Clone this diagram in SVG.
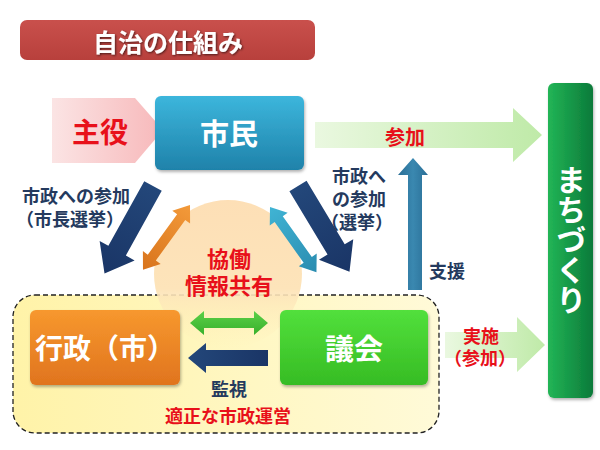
<svg xmlns="http://www.w3.org/2000/svg" width="600" height="450" viewBox="0 0 600 450">
<defs>
<style>
text{font-family:"Noto Sans CJK JP","Noto Sans",sans-serif;font-weight:bold;text-anchor:middle;dominant-baseline:central}
.w{fill:#fff}
.r{fill:#e8101a}
.n{fill:#243a5e}
</style>
<linearGradient id="gTitle" x1="0" y1="0" x2="0" y2="1"><stop offset="0" stop-color="#c9504c"/><stop offset="1" stop-color="#b8403c"/></linearGradient>
<linearGradient id="gPink" x1="0" y1="0" x2="1" y2="0"><stop offset="0" stop-color="#fbe4e4"/><stop offset="1" stop-color="#f7b8ba"/></linearGradient>
<linearGradient id="gBlue" x1="0" y1="0" x2="0" y2="1"><stop offset="0" stop-color="#3cb6dc"/><stop offset="1" stop-color="#1f82aa"/></linearGradient>
<linearGradient id="gLG" x1="0" y1="0" x2="1" y2="0"><stop offset="0" stop-color="#eaf8e0"/><stop offset="1" stop-color="#bfeaa8"/></linearGradient>
<linearGradient id="gMachi" x1="0" y1="0" x2="1" y2="0"><stop offset="0" stop-color="#22b556"/><stop offset="1" stop-color="#0b7a3a"/></linearGradient>
<linearGradient id="gYellow" x1="0" y1="0" x2="1" y2="0"><stop offset="0" stop-color="#fff3a8"/><stop offset="1" stop-color="#fffad8"/></linearGradient>
<linearGradient id="gPeach" x1="0" y1="0" x2="0" y2="1"><stop offset="0" stop-color="#fddfb6"/><stop offset="0.6" stop-color="#fde4ba"/><stop offset="1" stop-color="#fff0b8" stop-opacity="0"/></linearGradient>
<linearGradient id="gOrangeBox" x1="0" y1="0" x2="0" y2="1"><stop offset="0" stop-color="#f7982e"/><stop offset="1" stop-color="#e0741e"/></linearGradient>
<linearGradient id="gGreenBox" x1="0" y1="0" x2="0" y2="1"><stop offset="0" stop-color="#52e03c"/><stop offset="1" stop-color="#36bc24"/></linearGradient>
<linearGradient id="gNavy" x1="0" y1="0" x2="1" y2="0"><stop offset="0" stop-color="#23477a"/><stop offset="1" stop-color="#1a3566"/></linearGradient>
<linearGradient id="gOrange" x1="0" y1="0" x2="1" y2="0"><stop offset="0" stop-color="#f39a3a"/><stop offset="1" stop-color="#d8741c"/></linearGradient>
<linearGradient id="gTeal" x1="0" y1="0" x2="1" y2="0"><stop offset="0" stop-color="#40b4d4"/><stop offset="1" stop-color="#2a8cb0"/></linearGradient>
<linearGradient id="gSteel" x1="0" y1="0" x2="1" y2="0"><stop offset="0" stop-color="#2a6e96"/><stop offset="0.5" stop-color="#3a88b0"/><stop offset="1" stop-color="#2a6e96"/></linearGradient>
<linearGradient id="gGreenArr" x1="0" y1="0" x2="0" y2="1"><stop offset="0" stop-color="#5cd048"/><stop offset="1" stop-color="#38b02c"/></linearGradient>
<filter id="sh" x="-10%" y="-10%" width="130%" height="130%"><feDropShadow dx="1" dy="2" stdDeviation="1.5" flood-color="#000" flood-opacity="0.3"/></filter>
<filter id="tsh" x="-10%" y="-10%" width="120%" height="130%"><feDropShadow dx="1" dy="1" stdDeviation="0.8" flood-color="#000" flood-opacity="0.6"/></filter>
<path id="bigArrow" d="M0,-10 L74,-10 L74,-20 L100,0 L74,20 L74,10 L0,10 Z"/>
<path id="dblArrow" d="M0,0 L15,-11 L15,-5 L65,-5 L65,-11 L80,0 L65,11 L65,5 L15,5 L15,11 Z"/>
</defs>

<g id="title">
<rect x="20" y="20" width="295" height="40" rx="7" fill="url(#gTitle)"/>
<text x="168" y="41" class="w" font-size="25" filter="url(#tsh)">自治の仕組み</text>
</g>

<g id="council-area">
<rect x="13" y="295" width="426" height="138" rx="22" fill="url(#gYellow)" stroke="#222" stroke-width="1.3" stroke-dasharray="5,3"/>
</g>

<g id="kyodo">
<circle cx="228" cy="274" r="74" fill="url(#gPeach)"/>
<text x="229" y="257" class="r" font-size="22">協働</text>
<text x="229" y="284" class="r" font-size="22">情報共有</text>
</g>

<g id="connectors">
<path d="M315,122 L513,122 L513,108 L542,135 L513,162 L513,148 L315,148 Z" fill="url(#gLG)"/>
<path d="M445,332 L517,332 L517,317 L545,345 L517,372 L517,358 L445,358 Z" fill="url(#gLG)"/>
<use href="#bigArrow" transform="translate(153,186) rotate(119)" fill="url(#gNavy)"/>
<use href="#bigArrow" transform="translate(298,186) rotate(59)" fill="url(#gNavy)"/>
<use href="#dblArrow" transform="translate(190,205) rotate(126)" fill="url(#gOrange)"/>
<use href="#dblArrow" transform="translate(270,207) rotate(54.5)" fill="url(#gTeal)"/>
<path d="M408,290 L408,175 L398,175 L413,158 L428,175 L422,175 L422,290 Z" fill="url(#gSteel)"/>
<path d="M190,323 L204,311 L204,318 L254,318 L254,311 L268,323 L254,335 L254,328 L204,328 L204,335 Z" fill="url(#gGreenArr)"/>
<path d="M268,350 L206,350 L206,343 L188,358 L206,373 L206,366 L268,366 Z" fill="url(#gNavy)"/>
<text x="405" y="136" class="r" font-size="20">参加</text>
<text x="76" y="195" class="n" font-size="18">市政への参加</text>
<text x="70" y="218" class="n" font-size="18">（市長選挙）</text>
<text x="359" y="175" class="n" font-size="18">市政へ</text>
<text x="359" y="198" class="n" font-size="18">の参加</text>
<text x="357" y="221" class="n" font-size="18">（選挙）</text>
<text x="447" y="270" class="n" font-size="18">支援</text>
<text x="229" y="388" class="n" font-size="18">監視</text>
<text x="228" y="415" class="r" font-size="18">適正な市政運営</text>
<text x="481" y="335" class="r" font-size="18">実施</text>
<text x="480" y="357" class="r" font-size="18">（参加）</text>
</g>

<g id="shuyaku">
<path d="M52,98 L135,98 L163,130 L135,163 L52,163 Z" fill="url(#gPink)"/>
<text x="100" y="131" class="r" font-size="28">主役</text>
</g>

<g id="shimin">
<rect x="155" y="96" width="149" height="74" rx="6" fill="url(#gBlue)" filter="url(#sh)"/>
<text x="229" y="132" class="w" font-size="29">市民</text>
</g>

<g id="machizukuri">
<rect x="548" y="83" width="45" height="315" rx="6" fill="url(#gMachi)" filter="url(#sh)"/>
<text x="571" y="240" class="w" font-size="30" style="writing-mode:vertical-rl;text-orientation:upright" dominant-baseline="central">まちづくり</text>
</g>

<g id="gyosei">
<rect x="30" y="310" width="150" height="75" rx="6" fill="url(#gOrangeBox)" filter="url(#sh)"/>
<text x="105" y="347" class="w" font-size="28">行政（市）</text>
</g>

<g id="gikai">
<rect x="280" y="310" width="148" height="75" rx="6" fill="url(#gGreenBox)" filter="url(#sh)"/>
<text x="354" y="347" class="w" font-size="29">議会</text>
</g>
</svg>
